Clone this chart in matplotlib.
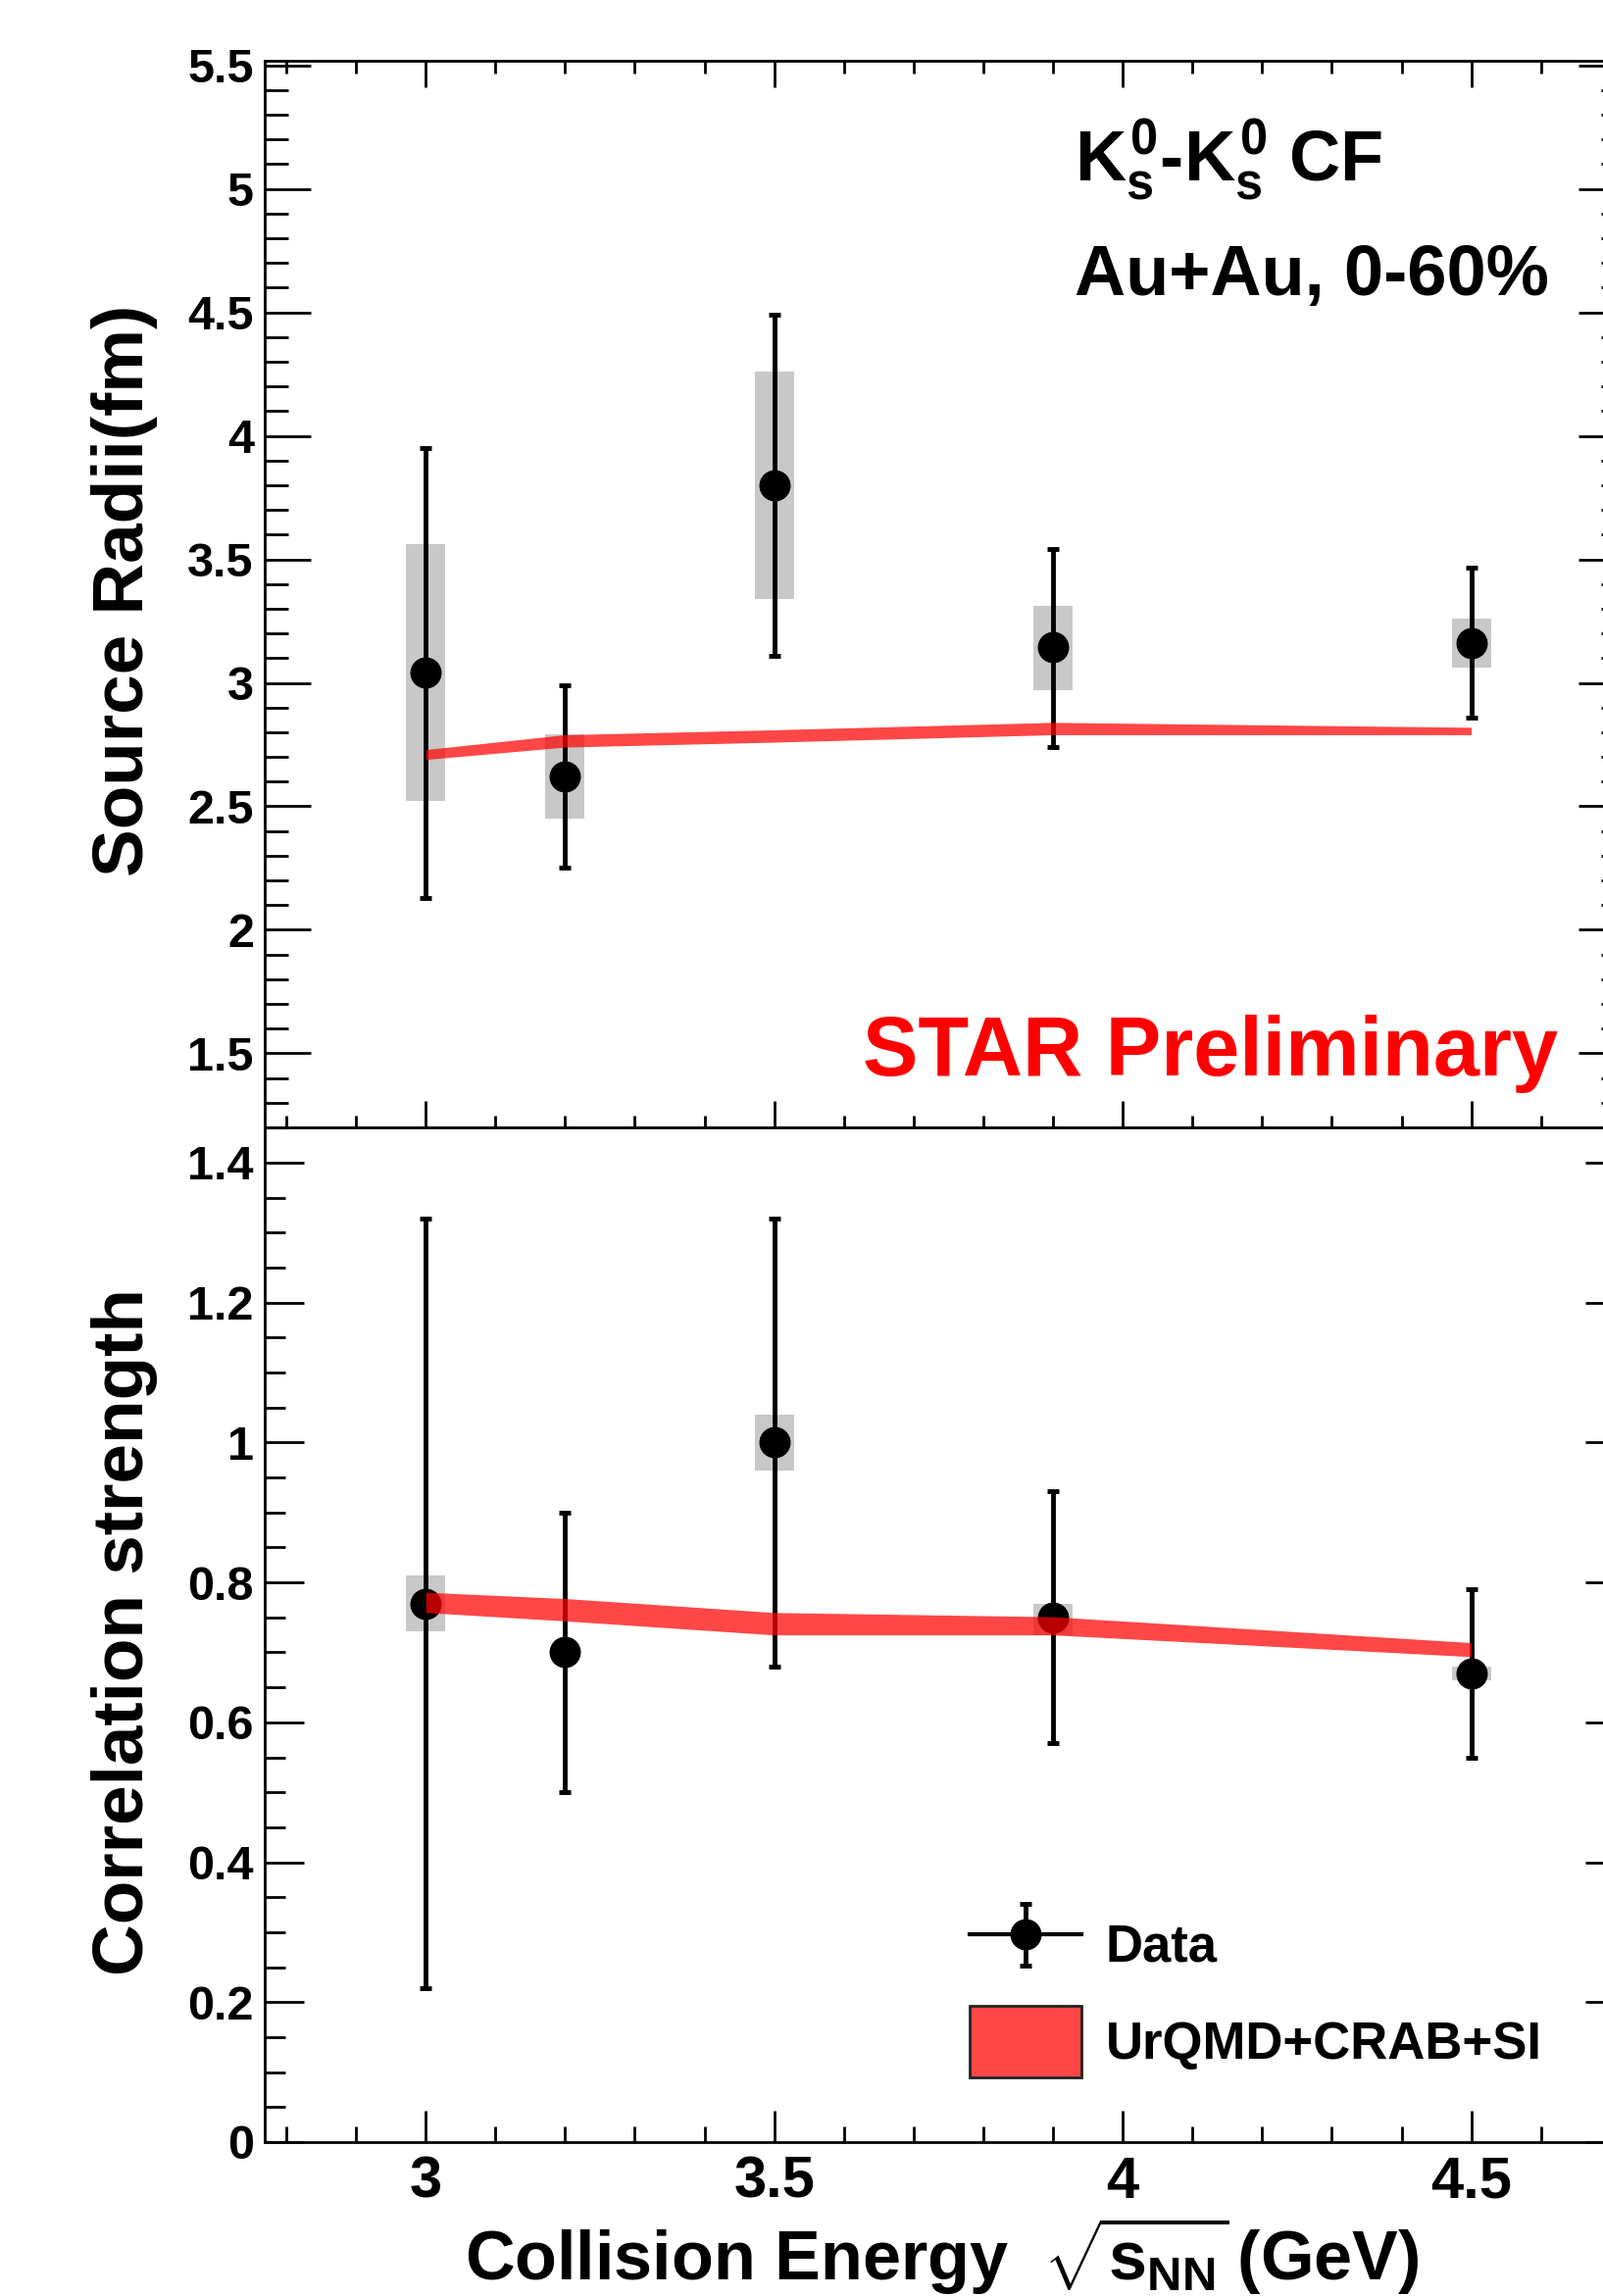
import matplotlib
matplotlib.use('Agg')
import matplotlib.pyplot as plt
import numpy as np
from matplotlib.ticker import MultipleLocator, FuncFormatter
from matplotlib.legend_handler import HandlerErrorbar
from matplotlib.patches import Patch

# ---------------- data ----------------
energy = [3.0, 3.2, 3.5, 3.9, 4.5]

# Source radii (fm)
radius = [3.04, 2.62, 3.80, 3.145, 3.16]
radius_stat_hi = [3.95, 2.99, 4.49, 3.54, 3.465]
radius_stat_lo = [2.13, 2.25, 3.11, 2.74, 2.86]
radius_sys_hi = [3.56, 2.79, 4.26, 3.31, 3.26]
radius_sys_lo = [2.52, 2.45, 3.34, 2.97, 3.06]
model_radius_lo = [2.69, 2.74, 2.76, 2.79, 2.79]
model_radius_hi = [2.73, 2.79, 2.81, 2.84, 2.82]

# Correlation strength
lam = [0.77, 0.70, 1.00, 0.75, 0.67]
lam_stat_hi = [1.32, 0.90, 1.32, 0.93, 0.79]
lam_stat_lo = [0.22, 0.50, 0.68, 0.57, 0.55]
lam_sys_hi = [0.81, 0.70, 1.04, 0.77, 0.68]
lam_sys_lo = [0.73, 0.70, 0.96, 0.725, 0.66]
model_lam_lo = [0.757, 0.745, 0.725, 0.725, 0.694]
model_lam_hi = [0.786, 0.777, 0.757, 0.751, 0.714]

radius_ticks = [1.5, 2, 2.5, 3, 3.5, 4, 4.5, 5, 5.5]
lam_ticks = [0, 0.2, 0.4, 0.6, 0.8, 1.0, 1.2, 1.4]
energy_ticks = [3, 3.5, 4, 4.5]

# ---------------- style ----------------
plt.rcParams['font.family'] = ['Liberation Sans', 'DejaVu Sans']
plt.rcParams['font.weight'] = 'bold'
plt.rcParams['mathtext.fontset'] = 'custom'
plt.rcParams['mathtext.rm'] = 'Liberation Sans:bold'
plt.rcParams['mathtext.it'] = 'Liberation Sans:bold'
plt.rcParams['mathtext.bf'] = 'Liberation Sans:bold'
plt.rcParams['mathtext.sf'] = 'Liberation Sans:bold'

W, H = 1635, 2342
fig = plt.figure(figsize=(W / 100, H / 100), dpi=100)
L, R = 270 / W, 1657 / W
ax1 = fig.add_axes([L, 1 - 1150 / H, R - L, (1150 - 62.3) / H])
ax2 = fig.add_axes([L, 1 - 2185 / H, R - L, (2185 - 1150) / H])

fmt = FuncFormatter(lambda v, p: f'{v:g}')
SYS_COLOR = '#c8c8c8'


def draw(ax, y, hi, lo, shi, slo, mlo, mhi):
    y = np.array(y)
    hi = np.array(hi)
    lo = np.array(lo)
    shi = np.array(shi)
    slo = np.array(slo)
    ax.bar(energy, shi - slo, bottom=slo, width=0.056, color=SYS_COLOR,
           lw=0, zorder=1)
    eb = ax.errorbar(energy, y, yerr=[y - lo, hi - y], fmt='o', color='k',
                     ms=22, elinewidth=3.5, capsize=4, capthick=3.5, zorder=3)
    ax.fill_between(energy, mlo, mhi, color='red', alpha=0.72, lw=0, zorder=4)
    return eb


draw(ax1, radius, radius_stat_hi, radius_stat_lo, radius_sys_hi, radius_sys_lo,
     model_radius_lo, model_radius_hi)
draw(ax2, lam, lam_stat_hi, lam_stat_lo, lam_sys_hi, lam_sys_lo,
     model_lam_lo, model_lam_hi)

for ax in (ax1, ax2):
    ax.set_xlim(2.769, 4.72)
    ax.xaxis.set_major_locator(MultipleLocator(0.5))
    ax.xaxis.set_minor_locator(MultipleLocator(0.1))
    ax.yaxis.set_major_formatter(fmt)
    ax.xaxis.set_major_formatter(fmt)
    for s in ax.spines.values():
        s.set_linewidth(2)
    ax.tick_params(which='both', direction='in', width=2, right=True)

ax1.set_ylim(1.2, 5.5175)
ax1.set_yticks(radius_ticks)
ax1.yaxis.set_minor_locator(MultipleLocator(0.1))
ax1.tick_params(axis='y', which='major', length=33.8, labelsize=35, pad=8)
ax1.tick_params(axis='y', which='minor', length=17.3)
ax1.tick_params(axis='x', which='major', length=19.5, top=True, labelbottom=False)
ax1.tick_params(axis='x', which='minor', length=9, top=True)

ax2.set_ylim(0, 1.4504)
ax2.set_yticks(lam_ticks)
ax2.set_xticks(energy_ticks)
ax2.yaxis.set_minor_locator(MultipleLocator(0.05))
ax2.tick_params(axis='y', which='major', length=29, labelsize=35, pad=8)
ax2.tick_params(axis='y', which='minor', length=14.8)
ax2.tick_params(axis='x', which='major', length=23, labelsize=43, pad=10)
ax2.tick_params(axis='x', which='minor', length=11.5)

# ---------------- legend ----------------
proxy = ax2.errorbar([np.nan], [np.nan], yerr=[[0.1], [0.1]], fmt='o-',
                     color='k', ms=22, lw=3, elinewidth=3.5, capsize=4,
                     capthick=3.5)
patch = Patch(facecolor=(1, 0, 0, 0.72), edgecolor='#222222', linewidth=2)
ax2.legend([proxy, patch], ['Data', 'UrQMD+CRAB+SI'], loc='upper left',
           bbox_to_anchor=(989 / W, 1 - 1946.5 / H), bbox_transform=fig.transFigure,
           frameon=False, borderpad=0, borderaxespad=0, handlelength=2.16,
           handleheight=1.75, handletextpad=0.47, labelspacing=0.51, fontsize=38,
           handler_map={proxy: HandlerErrorbar(yerr_size=0.6)})

# ---------------- texts ----------------
fig.text(146 / W, 1 - 602 / H, 'Source Radii(fm)', rotation=90, rotation_mode='anchor',
         ha='center', va='baseline', fontsize=52.5, fontweight='bold')
fig.text(146 / W, 1 - 1664.5 / H, 'Correlation strength', rotation=90,
         rotation_mode='anchor', ha='center', va='baseline', fontsize=52.5,
         fontweight='bold')
fig.text(961 / W, 1 - 2326 / H, r'Collision Energy $\;\sqrt{s_{NN}}\,$(GeV)',
         ha='center', va='baseline', fontsize=50.5, fontweight='bold')

fig.text(1096 / W, 1 - 185 / H, r'$K^{0}_{s}$-$K^{0}_{s}$ CF', ha='left',
         va='baseline', fontsize=52, fontweight='bold')
fig.text(1096 / W, 1 - 301 / H, 'Au+Au, 0-60%', ha='left', va='baseline',
         fontsize=52, fontweight='bold')
fig.text(1589 / W, 1 - 1097 / H, 'STAR Preliminary', ha='right', va='baseline',
         fontsize=61, fontweight='bold', color='red')

fig.savefig('out.png', dpi=100)
